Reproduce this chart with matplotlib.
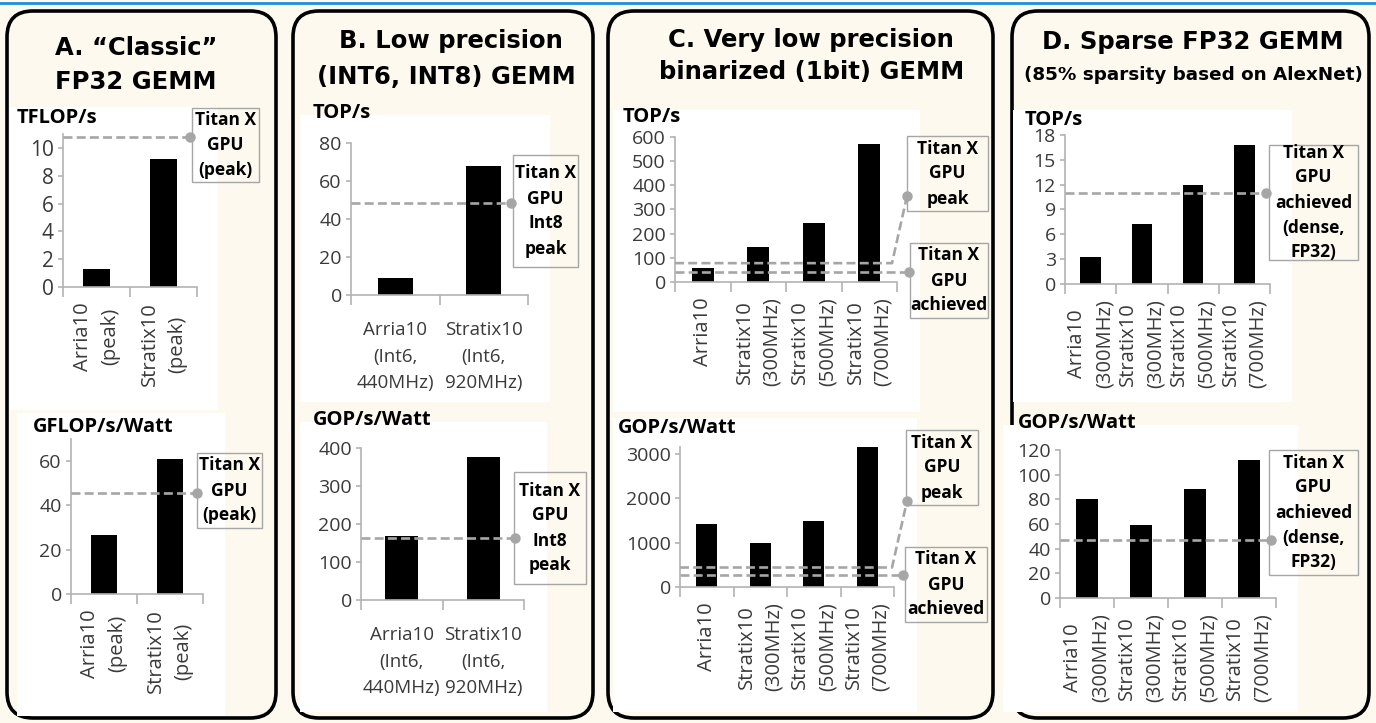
import numpy as np
import matplotlib
matplotlib.use("Agg")
import matplotlib.pyplot as plt
from matplotlib.patches import FancyBboxPatch, Rectangle

W, H = 1376, 723

# --- data ---
# A. classic FP32 GEMM
a_labels = ["Arria10\n(peak)", "Stratix10\n(peak)"]
a_tflops = [1.3, 9.2]
a_gflops_watt = [26.6, 61.0]
a_titan_tflops = 10.8
a_titan_gflops_watt = 45.6

# B. low precision GEMM
b_labels = ["Arria10\n(Int6,\n440MHz)", "Stratix10\n(Int6,\n920MHz)"]
b_tops = [8.9, 67.9]
b_gops_watt = [168, 376]
b_titan_tops = 48.4
b_titan_gops_watt = 163

# C. binarized GEMM
c_labels = ["Arria10", "Stratix10\n(300MHz)", "Stratix10\n(500MHz)", "Stratix10\n(700MHz)"]
c_tops = [58, 145, 245, 570]
c_gops_watt = [1430, 990, 1480, 3160]
c_titan_peak_tops = 78
c_titan_ach_tops = 42
c_titan_peak_gops_watt = 440
c_titan_ach_gops_watt = 270

# D. sparse FP32 GEMM
d_labels = ["Arria10\n(300MHz)", "Stratix10\n(300MHz)", "Stratix10\n(500MHz)", "Stratix10\n(700MHz)"]
d_tops = [3.3, 7.2, 11.9, 16.8]
d_gops_watt = [80, 59, 88, 112]
d_titan_tops = 11.0
d_titan_gops_watt = 47

CREAM = "#fef9ee"
AXIS = "#b3b3b3"
LEAD = "#a6a6a6"
TICK_TXT = "#3a3a3a"
TITLE_FONT = ["DejaVu Sans"]

plt.rcParams["font.family"] = ["Open Sans", "DejaVu Sans"]

fig = plt.figure(figsize=(W / 100, H / 100), dpi=100, facecolor=CREAM)

# overlay in pixel coordinates for panels, boxes and titles
bg = fig.add_axes([0, 0, 1, 1], zorder=-5)
bg.set_xlim(0, W)
bg.set_ylim(H, 0)
bg.axis("off")


def px_axes(x0, x1, y_top, y_zero):
    return fig.add_axes([x0 / W, 1 - y_zero / H, (x1 - x0) / W, (y_zero - y_top) / H])


def px_to_data(ax, x, y):
    return ax.transData.inverted().transform((x, H - y))


def bar_chart(ax, labels, values, ymax, step, rotate, ysize=14):
    n = len(values)
    x = np.arange(n)
    ax.bar(x, values, width=0.4, color="black", zorder=2)
    ax.set_xlim(-0.5, n - 0.5)
    ax.set_ylim(0, ymax)
    ax.set_yticks(np.arange(0, ymax + 1e-6, step))
    ax.set_xticks(np.arange(n + 1) - 0.5)
    ax.set_xticklabels([])
    ax.set_xticks(x, minor=True)
    ax.set_xticklabels(labels, minor=True, rotation=90 if rotate else 0)
    for lab in ax.get_xticklabels(minor=True):
        lab.set_multialignment("center")
        lab.set_linespacing(1.5 if rotate else 1.6)
    ax.tick_params(axis="x", which="major", length=7, width=1.2, color=AXIS)
    ax.tick_params(axis="x", which="minor", length=0, pad=11 if rotate else 19,
                   labelsize=14.5 if rotate else 13.5, labelcolor=TICK_TXT)
    ax.tick_params(axis="y", length=3.6, width=1.2, color=AXIS, pad=3,
                   labelsize=ysize, labelcolor=TICK_TXT)
    for s in ["top", "right"]:
        ax.spines[s].set_visible(False)
    for s in ["left", "bottom"]:
        ax.spines[s].set_color(AXIS)
        ax.spines[s].set_linewidth(1.2)
    ax.patch.set_alpha(0)


def titan_line(ax, value, marker_x, kink=None):
    # dashed reference line running to the label marker
    if kink is None:
        mx, _ = px_to_data(ax, marker_x[0], 0)
        xs, ys = [-0.5, mx], [value, value]
    else:
        kx, _ = px_to_data(ax, kink, 0)
        mx, my = px_to_data(ax, marker_x[0], marker_x[1])
        xs, ys = [-0.5, kx, mx], [value, value, my]
    ax.plot(xs, ys, color=LEAD, lw=1.9, ls=(0, (3.4, 1.6)), zorder=3, clip_on=False)
    ax.plot(xs[-1], ys[-1], "o", color=LEAD, ms=6.5, zorder=4, clip_on=False)


def label_box(x0, y0, x1, y1, text):
    bg.add_patch(Rectangle((x0, y0), x1 - x0, y1 - y0, fill=False, ec=LEAD, lw=1))
    bg.text((x0 + x1) / 2, (y0 + y1) / 2, text, ha="center", va="center",
            fontsize=12.5, fontweight="bold", linespacing=1.5)


def title(x, y, t, size=17.5):
    bg.text(x, y, t, ha="center", va="center", fontsize=size,
            fontweight="bold", family=TITLE_FONT)


# panel frames
for x0, x1 in [(7, 276), (293, 593), (608, 993), (1012, 1369)]:
    bg.add_patch(FancyBboxPatch((x0, 11), x1 - x0, 707,
                                boxstyle="round,pad=0,rounding_size=26",
                                fc="none", ec="black", lw=2.6))

# white chart backgrounds
for x0, y0, x1, y1 in [(10, 107, 218, 410), (17, 413, 225, 716),
                       (300, 115, 550, 402), (300, 422, 547, 712),
                       (613, 110, 920, 412), (613, 418, 917, 712),
                       (1013, 110, 1292, 402), (1003, 425, 1298, 712)]:
    bg.add_patch(Rectangle((x0, y0), x1 - x0, y1 - y0, fc="white", ec="none"))

bg.plot([0, W], [2.5, 2.5], color="#1e90dc", lw=2)

# titles
title(136, 48, "A. \u201cClassic\u201d")
title(136, 82, "FP32 GEMM")
title(451, 41, "B. Low precision")
title(446, 77, "(INT6, INT8) GEMM")
title(811, 40, "C. Very low precision")
title(812, 72, "binarized (1bit) GEMM")
title(1193, 42, "D. Sparse FP32 GEMM")
title(1193, 75, "(85% sparsity based on AlexNet)", size=13.2)

# y unit labels
for x, y, t in [(17, 118, "TFLOP/s"), (33, 427, "GFLOP/s/Watt"),
                (313, 113, "TOP/s"), (313, 420, "GOP/s/Watt"),
                (623, 117, "TOP/s"), (618, 428, "GOP/s/Watt"),
                (1025, 120, "TOP/s"), (1018, 423, "GOP/s/Watt")]:
    bg.text(x, y, t, ha="left", va="center", fontsize=14.5, fontweight="bold")

# A
ax = px_axes(63, 197, 134, 287)
bar_chart(ax, a_labels, a_tflops, 11, 2, True, ysize=15)
titan_line(ax, a_titan_tflops, (190,))
label_box(192, 108, 259, 182, "Titan X\nGPU\n(peak)")

ax = px_axes(71, 203, 439, 594)
bar_chart(ax, a_labels, a_gflops_watt, 70, 20, True)
titan_line(ax, a_titan_gflops_watt, (197,))
label_box(197, 453, 262, 528, "Titan X\nGPU\n(peak)")

# B
ax = px_axes(351, 528, 143, 295)
bar_chart(ax, b_labels, b_tops, 80, 20, False)
titan_line(ax, b_titan_tops, (511,))
label_box(513, 155, 578, 267, "Titan X\nGPU\nInt8\npeak")

ax = px_axes(361, 524, 448, 600)
bar_chart(ax, b_labels, b_gops_watt, 400, 100, False)
titan_line(ax, b_titan_gops_watt, (515,))
label_box(514, 472, 586, 584, "Titan X\nGPU\nInt8\npeak")

# C
ax = px_axes(675, 897, 137, 282)
bar_chart(ax, c_labels, c_tops, 600, 100, True)
titan_line(ax, c_titan_peak_tops, (907, 196), kink=892)
titan_line(ax, c_titan_ach_tops, (909,))
label_box(907, 136, 988, 211, "Titan X\nGPU\npeak")
label_box(910, 243, 988, 318, "Titan X\nGPU\nachieved")

ax = px_axes(680, 894, 447, 587)
bar_chart(ax, c_labels, c_gops_watt, 3160, 1000, True)
titan_line(ax, c_titan_peak_gops_watt, (907, 501), kink=892)
titan_line(ax, c_titan_ach_gops_watt, (903,))
label_box(906, 430, 978, 505, "Titan X\nGPU\npeak")
label_box(905, 547, 987, 622, "Titan X\nGPU\nachieved")

# D
ax = px_axes(1065, 1270, 135, 284)
bar_chart(ax, d_labels, d_tops, 18, 3, True)
titan_line(ax, d_titan_tops, (1266,))
label_box(1269, 145, 1358, 260, "Titan X\nGPU\nachieved\n(dense,\nFP32)")

ax = px_axes(1060, 1276, 450, 598)
bar_chart(ax, d_labels, d_gops_watt, 120, 20, True)
titan_line(ax, d_titan_gops_watt, (1271,))
label_box(1269, 450, 1358, 575, "Titan X\nGPU\nachieved\n(dense,\nFP32)")

fig.savefig("out.png", dpi=100, facecolor=CREAM)
